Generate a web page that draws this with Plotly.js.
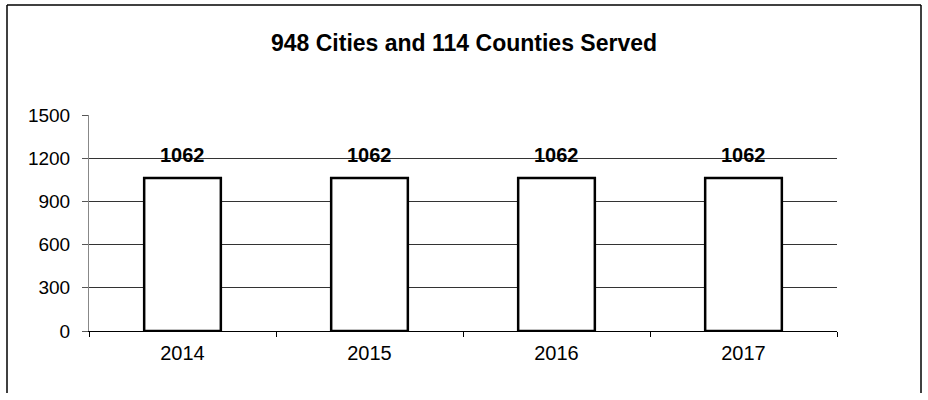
<!DOCTYPE html>
<html>
<head>
<meta charset="utf-8">
<script src="https://cdn.plot.ly/plotly-3.0.1.min.js"></script>
<style>html,body{margin:0;padding:0;background:#fff;}#chart{width:928px;height:400px;}</style>
</head>
<body>
<div id="chart"></div>
<script>
const years = ["2014", "2015", "2016", "2017"];
const served = [1062, 1062, 1062, 1062];
const yTicks = [0, 300, 600, 900, 1200, 1500];
const chartTitle = "948 Cities and 114 Counties Served";

const L = 89, R = 837, T = 115, B = 331, W = 928, H = 400;
const px = x => (x - L) / (R - L);
const py = y => (B - y) / (B - T);
const FONT = "Liberation Sans, Arial, sans-serif";

const trace = {
  type: "bar",
  x: years,
  y: served,
  marker: {color: "#fff", line: {color: "#000", width: 2.5}},
  width: 0.41,
  hoverinfo: "none"
};

// category index i positions the label over its bar
const labels = years.map((yr, i) => ({
  x: i, y: served[i], xref: "x", yref: "y",
  text: "<b>" + served[i] + "</b>",
  showarrow: false, yanchor: "middle", xanchor: "center", yshift: 23,
  font: {family: FONT, size: 20, color: "#000"}
}));

const layout = {
  width: W, height: H,
  margin: {l: L, r: W - R, t: T, b: H - B},
  paper_bgcolor: "#fff", plot_bgcolor: "#fff",
  showlegend: false,
  font: {family: FONT, color: "#000"},
  title: {text: "<b>" + chartTitle + "</b>", x: 0.5, xanchor: "center", y: 1 - 43 / H, yanchor: "middle",
          font: {size: 23, color: "#000", family: FONT}},
  xaxis: {
    type: "category",
    categoryorder: "array", categoryarray: years,
    range: [-0.5, years.length - 0.5],
    tickson: "boundaries",
    ticks: "outside", ticklen: 5, tickcolor: "#000", tickwidth: 1,
    showline: true, linecolor: "#000", linewidth: 1,
    showgrid: false,
    tickangle: 0,
    ticklabelstandoff: 4,
    tickfont: {size: 20, color: "#000"},
    fixedrange: true
  },
  yaxis: {
    range: [0, 1500],
    tickvals: yTicks,
    ticktext: yTicks.map(String),
    ticks: "outside", ticklen: 6, tickcolor: "#555", tickwidth: 1,
    showline: true, linecolor: "#888", linewidth: 1,
    showgrid: true, gridcolor: "#333", gridwidth: 1,
    zeroline: false,
    tickfont: {size: 19, color: "#000"},
    ticklabelstandoff: 8,
    fixedrange: true
  },
  annotations: labels,
  shapes: [
    {type: "line", xref: "paper", yref: "paper", x0: px(7), x1: px(921), y0: py(5), y1: py(5), line: {color: "#000", width: 1.5}},
    {type: "line", xref: "paper", yref: "paper", x0: px(7), x1: px(7), y0: py(5), y1: py(393), line: {color: "#000", width: 1.5}},
    {type: "line", xref: "paper", yref: "paper", x0: px(921), x1: px(921), y0: py(5), y1: py(393), line: {color: "#000", width: 1.5}}
  ]
};

Plotly.newPlot("chart", [trace], layout, {displayModeBar: false, staticPlot: true});
</script>
</body>
</html>
